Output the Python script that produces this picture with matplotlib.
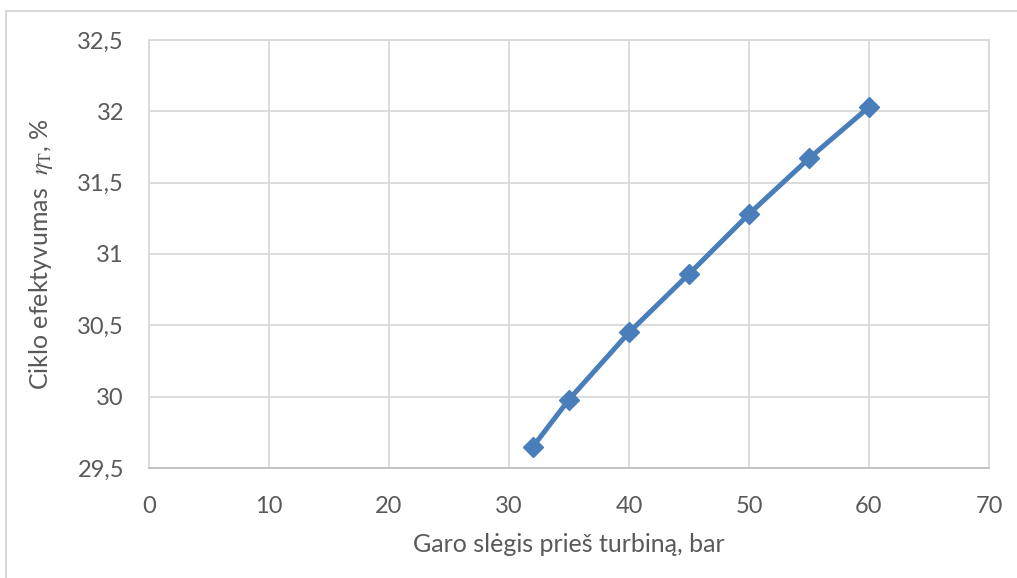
import matplotlib
matplotlib.use("Agg")
import matplotlib.pyplot as plt
from matplotlib.lines import Line2D

pressure = [32, 35, 40, 45, 50, 55, 60]
efficiency = [29.65, 29.98, 30.45, 30.86, 31.28, 31.67, 32.03]
x_ticks = [0, 10, 20, 30, 40, 50, 60, 70]
y_ticks = [29.5, 30, 30.5, 31, 31.5, 32, 32.5]
y_tick_labels = ["29,5", "30", "30,5", "31", "31,5", "32", "32,5"]

plt.rcParams['font.family'] = ['Lato', 'DejaVu Sans']
plt.rcParams['mathtext.fontset'] = 'stix'
text_color = "#595959"
grid_color = "#d9d9d9"
line_color = "#4a7ebb"

W, H = 1017, 578
fig = plt.figure(figsize=(W / 100, H / 100), dpi=100)
ax = fig.add_axes([149 / W, 1 - 468 / H, (989 - 149) / W, (468 - 40) / H])

ax.plot(pressure, efficiency, color=line_color, lw=3.6, marker='D', ms=10,
        markerfacecolor=line_color, markeredgecolor=line_color, zorder=3,
        solid_joinstyle='round')

ax.set_xlim(0, 70)
ax.set_ylim(29.5, 32.5)
ax.set_xticks(x_ticks)
ax.set_xticklabels([str(v) for v in x_ticks])
ax.set_yticks(y_ticks)
ax.set_yticklabels(y_tick_labels)
ax.grid(True, color=grid_color, lw=1.3)
ax.set_axisbelow(True)
for side in ['left', 'top', 'right']:
    ax.spines[side].set_color(grid_color)
    ax.spines[side].set_linewidth(1.3)
ax.spines['bottom'].set_color("#bfbfbf")
ax.spines['bottom'].set_linewidth(1.3)
ax.tick_params(length=0, labelsize=17, colors=text_color)
ax.tick_params(axis='y', pad=18)
ax.tick_params(axis='x', pad=20)

ax.set_xlabel("Garo slėgis prieš turbiną, bar", fontsize=18, color=text_color, labelpad=12)
ax.set_ylabel(r"Ciklo efektyvumas  $\eta_{\mathrm{T}}$, %", fontsize=18, color=text_color, labelpad=16)

# outer chart border (top and left visible)
fig.add_artist(Line2D([6 / W, 1016 / W], [1 - 11 / H, 1 - 11 / H], color=grid_color, lw=1.5, transform=fig.transFigure))
fig.add_artist(Line2D([6 / W, 6 / W], [1 - 11 / H, 0], color=grid_color, lw=1.5, transform=fig.transFigure))

fig.savefig("out.png", dpi=100, facecolor="white")
